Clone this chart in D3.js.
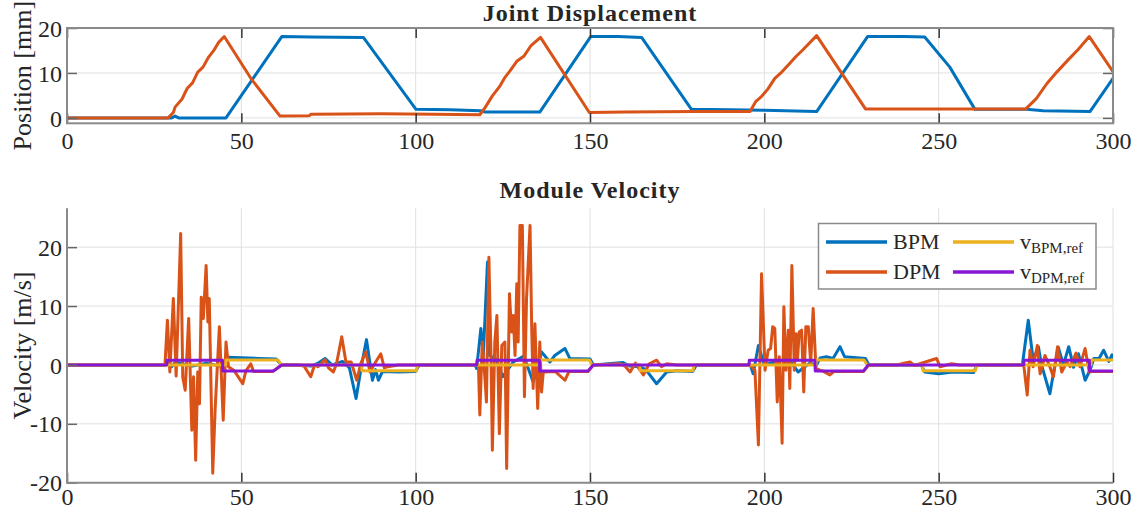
<!DOCTYPE html>
<html>
<head>
<meta charset="utf-8">
<script src="https://cdn.jsdelivr.net/npm/d3@7"></script>
<style>
  body { margin: 0; background: #fff; }
  svg { display: block; }
  svg text { font-family: "Liberation Serif", "Times New Roman", serif; }
</style>
</head>
<body>
<svg id="chart" width="1133" height="510"></svg>
<script>
// time ticks and axis ticks
const xTicks = [0, 50, 100, 150, 200, 250, 300];
const posTicks = [0, 10, 20];
const velTicks = [-20, -10, 0, 10, 20];

// joint displacement [mm], [t, value]
const bpmPos = [
  [0, 0], [30, 0], [31, 0.4], [32, 0], [45.6, 0], [61.6, 18.1], [70, 18], [85, 17.9],
  [100.1, 1.9], [110, 1.8], [118.5, 1.6], [120, 1.3], [135.6, 1.3], [150.2, 18.1], [158, 18.1],
  [164.8, 17.9], [179.1, 1.9], [190, 1.8], [200, 1.7], [215, 1.4], [229.6, 18.1], [240, 18.1],
  [246, 18], [253.2, 11.3], [260.4, 1.9], [265, 1.9], [275.2, 1.9], [280, 1.6], [293.4, 1.4], [300, 8.8]
];
const dpmPos = [
  [0, 0], [29, 0], [30.5, 1.2], [31, 2.4], [33, 4.2], [34.5, 6.6], [36, 7.8], [37.5, 10.2],
  [39, 11.3], [40.5, 13.4], [42, 14.9], [43.5, 16.8], [45.1, 18.1], [53, 8.5], [61.1, 0.4],
  [69.5, 0.5], [70, 0.8], [90, 0.9], [105, 0.8], [118.4, 0.7], [120, 2.4], [122, 4.9],
  [124, 6.9], [125.5, 8.9], [127, 10.4], [129, 12.6], [131, 13.7], [133, 16], [135.8, 17.9],
  [149.8, 1.2], [160, 1.3], [180, 1.4], [195.9, 1.4], [197.5, 3.6], [199, 4.6], [201, 6.4],
  [203, 8.8], [205, 10.2], [207, 11.9], [209, 13.6], [211, 15.1], [215, 18.3], [229, 2],
  [240, 2], [260, 2], [275, 2], [278, 4.3], [281, 7.6], [284, 10.3], [287, 12.8],
  [290, 15.2], [293.2, 18.1], [300, 10.3]
];

// module velocity [m/s], [t, value]
const bpmVel = [
  [0, 0], [28, 0], [29, 0.5], [30, -0.3], [31, 0.4], [33, 0.2], [36, -0.2], [40, 0.3], [44, -0.2],
  [45.5, 0], [46, 1.3], [50, 1.2], [55, 1.1], [60, 1.0], [61.5, 0], [66, 0], [70, -0.2], [72, 0.3],
  [74, 1.1], [76, 0], [79, 0.6], [81, -0.5], [82.9, -5.7], [84.5, 0], [85.9, 4.3], [87.6, -2.6],
  [88.5, -0.8], [89.3, -2.6], [90.5, -1.1], [95, -1.2], [100, -1.1], [101, 0], [117, 0],
  [117.5, -0.6], [118.7, 6.2], [119.4, 1.6], [120.6, 17.5], [121.2, 1.6], [123, 1], [125, -2],
  [128, 0.5], [131, 1.5], [133.7, -2.9], [136.1, 2.2], [138.5, 0.5], [139.9, 1.6], [142.8, 2.8],
  [144.2, 1.1], [150, 1.0], [151, 0], [159.5, 0.4], [161.4, -0.2], [164.3, -0.3], [166, -0.8],
  [169.1, -3.2], [172, -1.2], [175, -1], [179.5, -1.1], [180.5, 0], [196, 0], [196.8, -1.5],
  [198.3, 3.3], [200, 0], [203, 0.5], [207, 1], [209.7, -1.2], [213, 0.3], [215, 0], [216, 1.2],
  [217.8, 1.4], [219.7, 1.1], [221.7, 3.1], [223, 1.4], [229, 1.1], [230, 0], [245, 0],
  [246, -1.2], [250, -1.5], [254, -1.2], [260, -1.3], [261, 0], [274, 0], [275.7, 7.6],
  [277.1, 0.8], [278.6, 3.1], [279.5, 0], [281.9, -4.9], [282.9, -1.5], [284.3, 3], [285.8, 0],
  [287.3, 3.1], [288.7, -0.4], [290.1, 1.9], [292, -2.6], [293.4, -0.9], [294.5, 1.1],
  [296, 1.1], [297.3, 2.5], [298.8, 0.6], [299.7, 1.7], [300, 1.3]
];
const dpmVel = [
  [0, 0], [28.1, 0], [28.8, 7.6], [29.5, -1.2], [30.5, 11.3], [31.3, -1.9], [32.6, 22.3],
  [33.2, -2.1], [33.9, -4.3], [34.9, 7.9], [35.8, -11.1], [36.3, -2], [36.9, -16.2],
  [37.5, -1.2], [38, -6.6], [38.5, 11.5], [39.1, 7.9], [39.9, 16.9], [40.4, 7.3], [40.8, 11.3],
  [41.8, -18.4], [42.5, -7.4], [43.7, 6.5], [44.8, -9.4], [45.6, 3.9], [46.3, -0.3], [48, -1],
  [50.4, -3.2], [51.3, -1], [52.7, 0.2], [53.5, -1.1], [59, -1.1], [61.5, 0], [66, 0],
  [68, -0.2], [69.9, -2], [71, 0], [72, -0.3], [74, 0.9], [75, -0.5], [76.4, -1.2], [77.3, 0.2],
  [78.8, 4.8], [80, 0.5], [81.5, 0.5], [83.1, -2.6], [84.3, 0.3], [85.7, 2.2], [86.9, -1.2],
  [88, 0], [90, 1.9], [91, -0.5], [92, -0.3], [95, 0], [118, 0], [118.4, -8.5], [119.1, 3.9],
  [119.8, -1.7], [120.3, -6.3], [121, 18.3], [121.6, 1.6], [122, -14.5], [122.7, 3.9],
  [123.3, 8.4], [124, -11.7], [124.7, 3.3], [125.6, 3.9], [126.1, -17.6], [126.9, 12.1],
  [127.5, 5.6], [128, 8.4], [128.5, 1.6], [129, 13.8], [129.4, 3.9], [129.9, 23.7],
  [130.6, 23.7], [131.2, -5.4], [131.8, 11.3], [132.8, 23.7], [133.3, 5.6], [133.7, -4],
  [134.2, 7], [135, -7.4], [135.6, 3.9], [136.1, -4.6], [136.6, -1.2], [140, -1.1],
  [142.8, -2.6], [144, -1.1], [149.5, -1.1], [151, 0], [158.6, 0.2], [160, -0.2],
  [161.5, -1.2], [163, 0.3], [165.3, -1.7], [167, 0.2], [169.1, 0.8], [170.5, -0.3],
  [172, 0.2], [175, 0], [195.9, 0], [197.3, -0.9], [198.3, -13.6], [199.2, 15.5],
  [200.2, -0.9], [201.1, 2.5], [201.8, 2.8], [202.4, 6.5], [203, 6.2], [203.7, -6.3],
  [204.3, 1.4], [205.1, -13.3], [205.6, 9.9], [206.2, -0.9], [206.9, 5.9], [207.3, -4],
  [207.9, 16.9], [208.6, -0.9], [209.1, 5.3], [209.5, 0.8], [210, 5.6], [210.7, 5.9],
  [211.3, -4.6], [211.9, 6.5], [212.6, 6.5], [213.3, 0.2], [214, 9.6], [214.8, -0.6],
  [215.9, -0.9], [217, -1.1], [218.8, -1.7], [220, -1.1], [228.5, -1.1], [230, 0], [238, 0],
  [240, 0.3], [241.8, 0.5], [243, -0.1], [249.4, 1.1], [250.4, -0.3], [253.7, 0.2], [256, 0],
  [274.4, 0], [275.4, -5.1], [276.2, 2.5], [277.1, -0.3], [278.3, 3.3], [279.1, -1.5],
  [280.5, 1.6], [281.9, -0.3], [282.9, -2], [284.1, 3.1], [285.3, -1.2], [286.7, 0.5],
  [287.7, -0.3], [289.4, 2], [290.5, -0.3], [292, 2.8], [293.2, -1.2], [294, -1.1], [300, -1.1]
];

// reference velocities [m/s], [t, value]
const bpmRef = [
  [0, 0], [45.5, 0], [45.6, 0.85], [60.5, 0.85], [61.5, 0], [84.5, 0], [84.6, -1], [100.2, -1],
  [100.6, 0], [135.5, 0], [135.6, 0.85], [149.8, 0.85], [150.6, 0], [164.3, 0], [164.4, -1],
  [179.5, -1], [179.9, 0], [214.8, 0], [214.9, 0.85], [228.6, 0.85], [229.5, 0], [245.4, 0],
  [245.5, -1], [260.5, -1], [260.9, 0], [293.7, 0], [293.8, 0.85], [300, 0.85]
];
const dpmRef = [
  [0, 0], [28.6, 0], [28.7, 0.8], [44.6, 0.8], [44.7, -1.05], [59.2, -1.05], [61.6, 0],
  [117.5, 0], [117.6, 0.8], [135.5, 0.8], [135.6, -1.05], [149.4, -1.05], [150.9, 0],
  [195.6, 0], [195.7, 0.8], [214.5, 0.8], [214.6, -1.05], [228.4, -1.05], [229.8, 0],
  [274.4, 0], [274.5, 0.8], [293.2, 0.8], [293.3, -1.05], [300, -1.05]
];

const legendItems = [
  { name: "BPM", sub: null, color: "#0072BD", col: 0, row: 0 },
  { name: "DPM", sub: null, color: "#D95319", col: 0, row: 1 },
  { name: "v", sub: "BPM,ref", color: "#EDB120", col: 1, row: 0 },
  { name: "v", sub: "DPM,ref", color: "#8716D6", col: 1, row: 1 }
];

const svg = d3.select("#chart");
const textColor = "#262626";
const frameColor = "#8a8a8a";
const gridColor = "#e0e0e0";

const x = d3.scaleLinear().domain([0, 300]).range([67, 1113]);
const yPos = d3.scaleLinear().domain([-1.2, 20]).range([123.3, 28]);
const yVel = d3.scaleLinear().domain([-20, 26.6]).range([482.7, 208.3]);

// draws grid, ticks, labels for one panel
const drawPanel = (y, yTicks, opts) => {
    const [y0, y1] = y.range();   // bottom, top
    const g = svg.append("g");

    // grid
    g.append("g").selectAll("line").data(xTicks.slice(1, opts.box ? -1 : undefined)).join("line")
        .attr("x1", d => x(d)).attr("x2", d => x(d))
        .attr("y1", y0).attr("y2", y1)
        .attr("stroke", gridColor).attr("stroke-width", 1);
    g.append("g").selectAll("line").data(yTicks).join("line")
        .attr("x1", x(0)).attr("x2", x(300))
        .attr("y1", d => y(d)).attr("y2", d => y(d))
        .attr("stroke", gridColor).attr("stroke-width", 1);

    g.append("clipPath").attr("id", opts.clip)
        .append("rect").attr("x", x(0)).attr("y", y1).attr("width", x(300) - x(0)).attr("height", y0 - y1);

    const lines = g.append("g").attr("clip-path", `url(#${opts.clip})`);

    // bottom axis
    const xAxis = g.append("g").attr("transform", `translate(0,${y0})`)
        .call(d3.axisBottom(x).tickValues(xTicks).tickSize(-10).tickFormat(d3.format("d")));
    xAxis.select(".domain").remove();
    xAxis.selectAll(".tick line").attr("stroke", "#333").attr("stroke-width", 1.5);
    xAxis.selectAll(".tick text").attr("y", opts.xLabelOffset).attr("dy", 0)
        .attr("font-size", 24).attr("fill", textColor);

    const yAxis = g.append("g").attr("transform", `translate(${x(0)},0)`)
        .call(d3.axisLeft(y).tickValues(yTicks).tickSize(-10).tickFormat(d => String(d)));
    yAxis.select(".domain").remove();
    yAxis.selectAll(".tick line").attr("stroke", "#666").attr("stroke-width", 1.5);
    yAxis.selectAll(".tick text").attr("x", -5).attr("dy", "0.34em")
        .attr("font-size", 24).attr("fill", textColor);

    if (opts.box) {
        const top = g.append("g").attr("transform", `translate(0,${y1})`)
            .call(d3.axisTop(x).tickValues(xTicks).tickSize(-10).tickFormat(""));
        top.select(".domain").remove();
        top.selectAll(".tick line").attr("stroke", "#333").attr("stroke-width", 1.5);
        const right = g.append("g").attr("transform", `translate(${x(300)},0)`)
            .call(d3.axisRight(y).tickValues(yTicks).tickSize(-10).tickFormat(""));
        right.select(".domain").remove();
        right.selectAll(".tick line").attr("stroke", "#666").attr("stroke-width", 1.5);
        g.append("rect").attr("x", x(0)).attr("y", y1)
            .attr("width", x(300) - x(0)).attr("height", y0 - y1)
            .attr("fill", "none").attr("stroke", frameColor).attr("stroke-width", 2);
    } else {
        g.append("path")
            .attr("d", `M${x(0)},${y1}V${y0}H${x(300)}`)
            .attr("fill", "none").attr("stroke", frameColor).attr("stroke-width", 2);
    }

    // title
    svg.append("text")
        .attr("x", 590).attr("y", opts.titleY)
        .attr("text-anchor", "middle")
        .attr("font-size", 24).attr("font-weight", "bold")
        .attr("letter-spacing", 1)
        .attr("fill", textColor)
        .text(opts.title);

    // y label
    svg.append("text")
        .attr("transform", `translate(${opts.yLabelX},${(y0 + y1) / 2}) rotate(-90)`)
        .attr("text-anchor", "middle")
        .attr("font-size", 26).attr("fill", textColor)
        .text(opts.yLabel);

    return lines;
};

const addLine = (layer, data, y, color, width) => {
    const line = d3.line().x(d => x(d[0])).y(d => y(d[1]));
    layer.append("path")
        .datum(data)
        .attr("d", line)
        .attr("fill", "none")
        .attr("stroke", color)
        .attr("stroke-width", width)
        .attr("stroke-linejoin", "round")
        .attr("stroke-linecap", "round");
};

// top panel
const topLines = drawPanel(yPos, posTicks, {
    box: true, clip: "clipTop", xLabelOffset: 26,
    title: "Joint Displacement", titleY: 21, yLabel: "Position [mm]", yLabelX: 31
});
addLine(topLines, bpmPos, yPos, "#0072BD", 3);
addLine(topLines, dpmPos, yPos, "#D95319", 3);

// bottom panel
const botLines = drawPanel(yVel, velTicks, {
    box: false, clip: "clipBot", xLabelOffset: 22.3,
    title: "Module Velocity", titleY: 198, yLabel: "Velocity [m/s]", yLabelX: 31
});
addLine(botLines, bpmVel, yVel, "#0072BD", 3);
addLine(botLines, dpmVel, yVel, "#D95319", 3);
addLine(botLines, bpmRef, yVel, "#EDB120", 3);
addLine(botLines, dpmRef, yVel, "#8716D6", 3);

// legend
const legend = svg.append("g");
legend.append("rect")
    .attr("x", 818.5).attr("y", 223.5).attr("width", 277.5).attr("height", 65.5)
    .attr("fill", "#fff").attr("stroke", frameColor).attr("stroke-width", 1.5);

const colX = [826, 953];
const rowY = [242, 272];
legendItems.forEach(it => {
    const lx = colX[it.col];
    const ly = rowY[it.row];
    legend.append("line")
        .attr("x1", lx).attr("x2", lx + 61).attr("y1", ly).attr("y2", ly)
        .attr("stroke", it.color).attr("stroke-width", 3.5);
    const t = legend.append("text")
        .attr("x", lx + 67).attr("y", ly + 7)
        .attr("font-size", 22).attr("fill", textColor);
    t.append("tspan").text(it.name);
    if (it.sub) {
        t.append("tspan").attr("font-size", 15).attr("dy", 4).text(it.sub);
    }
});
</script>
</body>
</html>
